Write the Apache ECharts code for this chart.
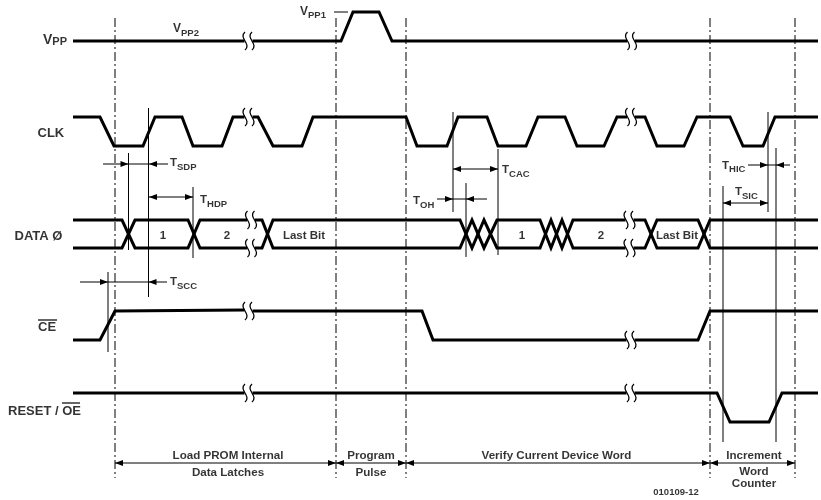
<!DOCTYPE html>
<html><head><meta charset="utf-8">
<script src="https://cdn.jsdelivr.net/npm/echarts@6/dist/echarts.min.js"></script>
<style>html,body{margin:0;padding:0;background:#fff}#c{width:821px;height:500px}</style>
</head><body><div id="c"></div>
<script>
// ---- waveforms: [time, level] points, null = break in the drawing ----
const vppWave = [[73,41],[244.5,41],null,[252.5,41],[341,41],[353,12],[379,12],[392,41],[627,41],null,[635,41],[818,41]];
const clkWave = [[73,117],[100,117],[114,146],[143,146],[155,117],[182,117],[193,146],[222,146],[233,117],[244.5,117],null,
  [252.5,117],[258,117],[273,146],[302,146],[313,117],[406,117],[417,146],[447,146],[458,117],[487,117],[498,146],[526,146],
  [538,117],[565,117],[577,146],[604,146],[617,117],[627,117],null,[635,117],[645,117],[657,146],[684,146],[697,117],
  [730,117],[743,146],[763,146],[775,117],[818,117]];
const ceWave = [[73,340],[100,340],[115,311],[244.5,310],null,[252.5,311],[422,311],[433,340],[626.5,340],null,[634.5,340],[698,340],[710,311],[818,311]];
const resetWave = [[73,393],[244.5,393],null,[252.5,393],[626.5,393],null,[634.5,393],[717,393],[730,422],[769,422],[782,393],[818,393]];
// data bus
const busLevels = [220, 248];
const busSpan = [73, 818];
const busCrossings = [[122,135],[188,200],[262,273],[460,472],[472,484],[484,497],[540,551],[551,562],[562,573],[645,657],[698,710]];
const busBreaks = [251, 629.5];
// break marks
const breakMarks = [[248.5,41],[631,41],[248.5,117],[631,117],[251,220],[251,248],[629.5,220],[629.5,248],[248.5,311],[630.5,340],[248.5,393],[630.5,393]];
// phase boundaries (dash-dot)
const phaseX = [115, 336, 406, 710, 795];
const phaseY = [18, 478];
// timing reference lines [x, y1, y2]
const refV = [[108,272,352],[128.5,153,250],[148.5,108,297],[193,187,258],[453,112,212],[466,183,257],[498,149,255],[723,186,442],[768,112,212],[776,148,442]];
// dimension lines [x1, x2, y]
const dimH = [[103,168,164],[149,193,197],[80,167,282],[453,498,169],[437,487,199],[748,790,165],[723,768,203],[115,795,463],[334,348,12]];
// arrow tips [x, y, direction]
const arrowTips = [[128.5,164,1],[149,164,-1],[149,197,-1],[193,197,1],[108,282,1],[148.5,282,-1],[453,169,-1],[498,169,1],
  [453,199,1],[466,199,-1],[768,165,1],[776,165,-1],[723,203,-1],[768,203,1],
  [115,463,-1],[336,463,1],[336,463,-1],[406,463,1],[406,463,-1],[710,463,1],[710,463,-1],[795,463,1]];
// overbars [x1, x2, y]
const overbars = [[38,57,320],[62,80,403]];
// texts [rich text, x, y, align]
const texts = [
  ['{v|V}{vs|PP}', 43, 40, 'left'],
  ['{vm|V}{s|PP2}', 173, 29, 'left'],
  ['{vm|V}{s|PP1}', 300, 11.5, 'left'],
  ['{sig|CLK}', 37.5, 133.5, 'left'],
  ['{sig|DATA Ø}', 14.5, 236.5, 'left'],
  ['{sig|CE}', 38, 327.5, 'left'],
  ['{sig|RESET / OE}', 8, 411, 'left'],
  ['{m|T}{s|SDP}', 170, 163, 'left'],
  ['{m|T}{s|HDP}', 200, 200, 'left'],
  ['{m|T}{s|SCC}', 170, 282, 'left'],
  ['{m|T}{s|CAC}', 502, 170, 'left'],
  ['{m|T}{s|OH}', 413, 201, 'left'],
  ['{m|T}{s|HIC}', 722, 165.5, 'left'],
  ['{m|T}{s|SIC}', 735, 192, 'left'],
  ['{bus|1}', 163, 236, 'center'], ['{bus|2}', 227, 236, 'center'], ['{bus|Last Bit}', 304, 236, 'center'],
  ['{bus|1}', 522, 236, 'center'], ['{bus|2}', 601, 236, 'center'], ['{bus|Last Bit}', 677, 236, 'center'],
  ['{ph|Load PROM Internal}', 228, 455.5, 'center'], ['{ph|Data Latches}', 228, 473, 'center'],
  ['{ph|Program}', 371, 455.5, 'center'], ['{ph|Pulse}', 371, 473, 'center'],
  ['{ph|Verify Current Device Word}', 556.5, 455.5, 'center'],
  ['{ph|Increment}', 754, 455.5, 'center'], ['{ph|Word}', 754, 471.3, 'center'], ['{ph|Counter}', 754, 483.8, 'center'],
  ['{id|010109-12}', 676, 492.7, 'center']
];

const FF = '"Liberation Sans", Arial, Helvetica, sans-serif';
const INK = '#000';

function split(arr) {
  const out = []; let cur = [];
  arr.forEach(p => { if (p === null) { if (cur.length) out.push(cur); cur = []; } else cur.push(p); });
  if (cur.length) out.push(cur);
  return out;
}
function busRails() {
  const items = busCrossings.map(c => ({x: c[0], c})).concat(busBreaks.map(b => ({x: b - 4, br: b}))).sort((p, q) => p.x - q.x);
  let ya = busLevels[0], yb = busLevels[1];
  const out = [];
  let A = [[busSpan[0], ya]], B = [[busSpan[0], yb]];
  items.forEach(it => {
    if (it.c) {
      A.push([it.c[0], ya], [it.c[1], yb]); B.push([it.c[0], yb], [it.c[1], ya]);
      const t = ya; ya = yb; yb = t;
    } else {
      A.push([it.br - 4, ya]); B.push([it.br - 4, yb]); out.push(A, B);
      A = [[it.br + 4, ya]]; B = [[it.br + 4, yb]];
    }
  });
  A.push([busSpan[1], ya]); B.push([busSpan[1], yb]); out.push(A, B);
  return out;
}
function lineSeries(points, style) {
  return {type: 'line', data: points, showSymbol: false, symbol: 'none', silent: true, animation: false, clip: false,
    lineStyle: Object.assign({color: INK, cap: 'butt', join: 'miter'}, style), z: 2};
}

const series = [];
[vppWave, clkWave, ceWave, resetWave].forEach(w => split(w).forEach(s => series.push(lineSeries(s, {width: 3}))));
busRails().forEach(s => series.push(lineSeries(s, {width: 3})));
phaseX.forEach(x => series.push(lineSeries([[x, phaseY[0]], [x, phaseY[1]]], {width: 1, type: [9, 3, 2, 3]})));
refV.forEach(v => series.push(lineSeries([[v[0], v[1]], [v[0], v[2]]], {width: 1})));
dimH.forEach(h => series.push(lineSeries([[h[0], h[2]], [h[1], h[2]]], {width: 1})));
overbars.forEach(h => series.push(lineSeries([[h[0], h[2]], [h[1], h[2]]], {width: 1.2})));

series.push({
  type: 'custom', silent: true, animation: false, data: arrowTips, z: 3,
  renderItem: (params, api) => {
    const p = api.coord([api.value(0), api.value(1)]);
    const d = api.value(2);
    return {type: 'polygon', shape: {points: [[p[0], p[1]], [p[0] - d * 8, p[1] - 3], [p[0] - d * 8, p[1] + 3]]}, style: {fill: INK}};
  }
});
series.push({
  type: 'custom', silent: true, animation: false, data: breakMarks, z: 3,
  renderItem: (params, api) => {
    const p = api.coord([api.value(0), api.value(1)]);
    return {type: 'group', children: [-3.5, 3.5].map(dx => ({
      type: 'bezierCurve',
      shape: {x1: p[0] + dx, y1: p[1] - 9, x2: p[0] + dx, y2: p[1] + 9, cpx1: p[0] + dx - 7, cpy1: p[1] - 3, cpx2: p[0] + dx + 7, cpy2: p[1] + 3},
      style: {stroke: INK, lineWidth: 1.3, fill: 'none'}
    }))};
  }
});
const rs = (size, pad) => ({fontSize: size, fontWeight: 'bold', fontFamily: FF, color: INK, padding: pad ? [pad, 0, 0, 0] : 0});
series.push({
  type: 'scatter', silent: true, animation: false, symbolSize: 1, itemStyle: {color: 'rgba(0,0,0,0)'}, z: 4,
  data: texts.map(t => ({value: [t[1], t[2]], txt: t[0], label: {align: t[3]}})),
  label: {
    show: true, position: 'inside', verticalAlign: 'middle',
    formatter: p => p.data.txt,
    rich: {
      v: rs(14), vs: rs(11, 4.5), vm: rs(12), m: rs(11.5), s: rs(9.5, 8),
      sig: rs(13), bus: rs(11.5), ph: rs(11.6), id: rs(9.5)
    }
  }
});

const chart = echarts.init(document.getElementById('c'), null, {renderer: 'canvas'});
chart.setOption({
  animation: false,
  backgroundColor: '#fff',
  grid: {left: 0, right: 0, top: 0, bottom: 0, containLabel: false, outerBoundsMode: 'none'},
  xAxis: {type: 'value', min: 0, max: 821, show: false},
  yAxis: {type: 'value', min: 0, max: 500, inverse: true, show: false},
  series
});
</script></body></html>
